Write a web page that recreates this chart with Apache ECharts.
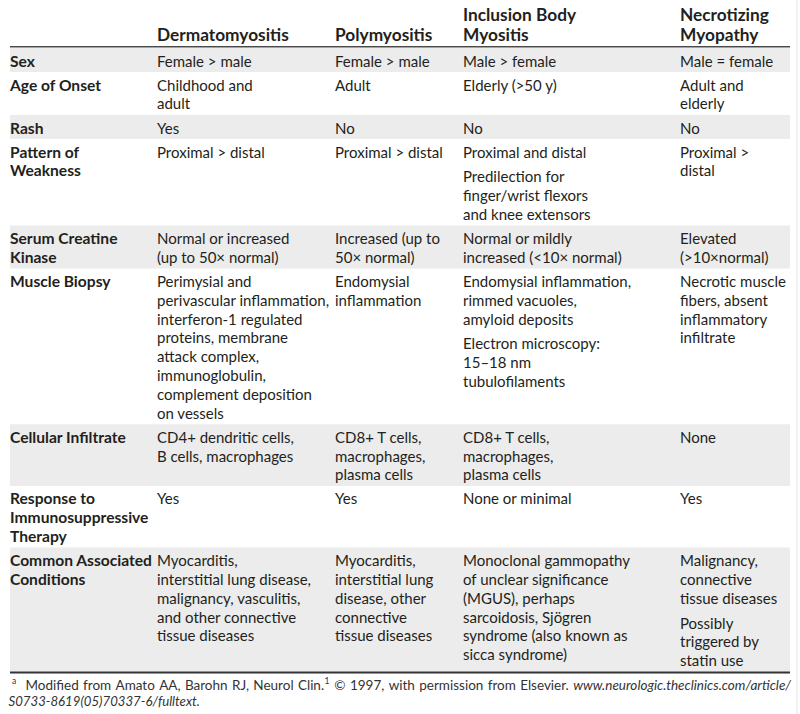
<!DOCTYPE html>
<html><head><meta charset="utf-8">
<script src="https://cdn.jsdelivr.net/npm/echarts/dist/echarts.min.js"></script>
<style>html,body{margin:0;padding:0;background:#fff}#c{width:800px;height:714px}
#c, #c text, #c tspan{font-variant-ligatures:none;font-feature-settings:"liga" 0,"clig" 0,"dlig" 0}</style>
</head><body><div id="c"></div>
<script>
// ---------- DATA ----------
const columnHeaders = ['Dermatomyositis', 'Polymyositis', 'Inclusion Body\nMyositis', 'Necrotizing\nMyopathy'];
const rowLabels = ['Sex', 'Age of Onset', 'Rash', 'Pattern of\nWeakness', 'Serum Creatine\nKinase', 'Muscle Biopsy',
  'Cellular Infiltrate', 'Response to\nImmunosuppressive\nTherapy', 'Common Associated\nConditions'];
const dermatomyositis = [
  'Female > male', 'Childhood and\nadult', 'Yes', 'Proximal > distal', 'Normal or increased\n(up to 50\u00d7 normal)',
  'Perimysial and\nperivascular inflammation,\ninterferon-1 regulated\nproteins, membrane\nattack complex,\nimmunoglobulin,\ncomplement deposition\non vessels',
  'CD4+ dendritic cells,\nB cells, macrophages', 'Yes',
  'Myocarditis,\ninterstitial lung disease,\nmalignancy, vasculitis,\nand other connective\ntissue diseases'];
const polymyositis = [
  'Female > male', 'Adult', 'No', 'Proximal > distal', 'Increased (up to\n50\u00d7 normal)', 'Endomysial\ninflammation',
  'CD8+ T cells,\nmacrophages,\nplasma cells', 'Yes',
  'Myocarditis,\ninterstitial lung\ndisease, other\nconnective\ntissue diseases'];
const inclusionBodyMyositis = [
  'Male > female', 'Elderly (>50 y)', 'No',
  ['Proximal and distal', 'Predilection for\nfinger/wrist flexors\nand knee extensors'],
  'Normal or mildly\nincreased (<10\u00d7 normal)',
  ['Endomysial inflammation,\nrimmed vacuoles,\namyloid deposits', 'Electron microscopy:\n15\u201318 nm\ntubulofilaments'],
  'CD8+ T cells,\nmacrophages,\nplasma cells', 'None or minimal',
  'Monoclonal gammopathy\nof unclear significance\n(MGUS), perhaps\nsarcoidosis, Sj\u00f6gren\nsyndrome (also known as\nsicca syndrome)'];
const necrotizingMyopathy = [
  'Male = female', 'Adult and\nelderly', 'No', 'Proximal >\ndistal', 'Elevated\n(>10\u00d7normal)',
  'Necrotic muscle\nfibers, absent\ninflammatory\ninfiltrate', 'None', 'Yes',
  ['Malignancy,\nconnective\ntissue diseases', 'Possibly\ntriggered by\nstatin use']];
const footnoteMark = 'a';
const footnoteLine1 = [
  {t: 'Modified'}, {t: 'from'}, {t: 'Amato'}, {t: 'AA,'}, {t: 'Barohn'}, {t: 'RJ,'}, {t: 'Neurol'}, {t: 'Clin.'},
  {t: '1', sup: true}, {t: '\u00a9'}, {t: '1997,'}, {t: 'with'}, {t: 'permission'}, {t: 'from'}, {t: 'Elsevier.'},
  {t: 'www.neurologic.theclinics.com/article/', italic: true}];
const footnoteLine2 = 'S0733-8619(05)70337-6/fulltext.';

// ---------- LAYOUT ----------
const columns = [dermatomyositis, polymyositis, inclusionBodyMyositis, necrotizingMyopathy];
const colX = [10, 157, 335, 463, 680];
const TABLE_L = 10, TABLE_R = 790, TABLE_TOP = 48;
const LH = 18.8, PAD = 5.3, PG = 6, FIRST = 3.2;
const FAMILY = 'Lato, "Open Sans", sans-serif';
const bodyFont = '15px ' + FAMILY, labelFont = 'bold 15.6px ' + FAMILY, headFont = 'bold 17.3px ' + FAMILY;
const TXT = '#231f20';

const paras = v => Array.isArray(v) ? v : [v];
const nLines = s => s.split('\n').length;
const cellSize = v => { const p = paras(v); return p.reduce((s, q) => s + nLines(q), 0) * LH + (p.length - 1) * PG; };
const rowHeights = rowLabels.map((lab, i) => PAD + Math.max(nLines(lab) * LH, ...columns.map(c => cellSize(c[i]))));
const rowTops = []; rowHeights.reduce((y, h, i) => { rowTops[i] = y; return y + h; }, TABLE_TOP);
const tableBottom = rowTops[rowTops.length - 1] + rowHeights[rowHeights.length - 1];

function txt(api, s, x, y, font, va, lh) {
  const p = api.coord([x, y]);
  return {type: 'text', x: p[0], y: p[1], style: {text: s, font: font, fill: TXT, lineHeight: lh || LH, align: 'left', verticalAlign: va || 'top'}};
}

function renderRow(params, api) {
  const i = api.value(0), top = rowTops[i], h = rowHeights[i];
  const a = api.coord([TABLE_L, top]), b = api.coord([TABLE_R, top + h]);
  const ch = [];
  if (i % 2 === 0) ch.push({type: 'rect', shape: {x: a[0], y: a[1], width: b[0] - a[0], height: b[1] - a[1]}, style: {fill: '#ececec'}});
  ch.push(txt(api, rowLabels[i], colX[0], top + FIRST, labelFont));
  columns.forEach((col, c) => {
    let y = top + FIRST;
    paras(col[i]).forEach(p => { ch.push(txt(api, p, colX[c + 1], y, bodyFont)); y += nLines(p) * LH + PG; });
  });
  return {type: 'group', children: ch};
}

function renderHeader(params, api) {
  const ch = [];
  columnHeaders.forEach((hd, c) => ch.push(txt(api, hd, colX[c + 1], 45.3, headFont, 'bottom', 20.8)));
  const l = api.coord([TABLE_L, 46.8]), r = api.coord([TABLE_R, 46.8]);
  ch.push({type: 'line', shape: {x1: l[0], y1: l[1], x2: r[0], y2: r[1]}, style: {stroke: '#4a4a4a', lineWidth: 1.6}});
  const bl = api.coord([TABLE_L, tableBottom + 0.8]), br = api.coord([TABLE_R, tableBottom + 0.8]);
  ch.push({type: 'line', shape: {x1: bl[0], y1: bl[1], x2: br[0], y2: br[1]}, style: {stroke: '#333', lineWidth: 1.8}});
  // footnote (justified first line)
  const ctx = document.createElement('canvas').getContext('2d');
  const fnFont = '13.5px ' + FAMILY, fnItal = 'italic 13.5px ' + FAMILY, fnItal2 = 'italic 13.2px ' + FAMILY, supFont = '8.5px ' + FAMILY;
  const y1 = tableBottom + 13.5, y2 = tableBottom + 29;
  const m = api.coord([12, y1 - 4]);
  ch.push({type: 'text', x: m[0], y: m[1], style: {text: footnoteMark, font: supFont, fill: '#333', verticalAlign: 'middle'}});
  const startX = 25.5, endX = TABLE_R;
  const widths = footnoteLine1.map(t => { ctx.font = t.sup ? supFont : (t.italic ? fnItal : fnFont); return ctx.measureText(t.t).width; });
  const gaps = footnoteLine1.filter(t => !t.sup).length - 1;
  const extra = (endX - startX - widths.reduce((s, w) => s + w, 0)) / gaps;
  let x = startX;
  footnoteLine1.forEach((t, k) => {
    if (k > 0 && !t.sup) x += extra;
    const p = api.coord([x + (t.sup ? 0.5 : 0), t.sup ? y1 - 4 : y1]);
    ch.push({type: 'text', x: p[0], y: p[1], style: {text: t.t, font: t.sup ? supFont : (t.italic ? fnItal : fnFont), fill: '#333', verticalAlign: 'middle'}});
    x += widths[k] + (t.sup ? 1 : 0);
  });
  const p2 = api.coord([8.5, y2]);
  ch.push({type: 'text', x: p2[0], y: p2[1], style: {text: footnoteLine2, font: fnItal2, fill: '#333', verticalAlign: 'middle'}});
  const e1 = api.coord([797, 0]), e2 = api.coord([797, 714]);
  ch.push({type: 'line', shape: {x1: e1[0], y1: e1[1], x2: e2[0], y2: e2[1]}, style: {stroke: '#e4e4e4', lineWidth: 1}});
  return {type: 'group', children: ch};
}

const chart = echarts.init(document.getElementById('c'), null, {renderer: 'svg'});
chart.setOption({
  animation: false,
  backgroundColor: '#fff',
  grid: {left: 0, right: 0, top: 0, bottom: 0},
  xAxis: {type: 'value', min: 0, max: 800, show: false},
  yAxis: {type: 'value', min: 0, max: 714, inverse: true, show: false},
  series: [
    {type: 'custom', clip: false, silent: true, renderItem: renderRow, data: rowLabels.map((l, i) => [i])},
    {type: 'custom', clip: false, silent: true, renderItem: renderHeader, data: [[0]], z: 3}
  ]
});
</script></body></html>
